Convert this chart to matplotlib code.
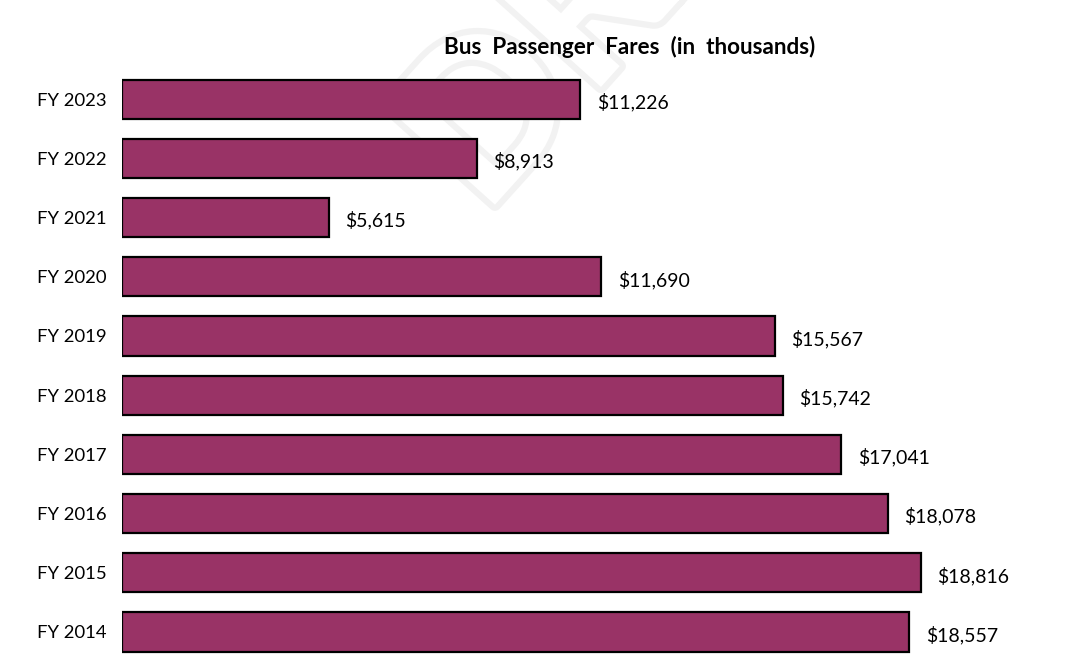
import matplotlib
matplotlib.use('Agg')
import matplotlib.pyplot as plt
import matplotlib.patheffects as pe

# fiscal years, bottom to top
years = ['FY 2014', 'FY 2015', 'FY 2016', 'FY 2017', 'FY 2018',
         'FY 2019', 'FY 2020', 'FY 2021', 'FY 2022', 'FY 2023']
fares = [18557, 18816, 18078, 17041, 15742, 15567, 11690, 5615, 8913, 11226]
base = 1000  # axis starts a little above zero in the original

plt.rcParams['font.family'] = ['Lato', 'DejaVu Sans']

fig = plt.figure(figsize=(10.84, 6.63), dpi=100)

# faint watermark, sits behind the chart
bg = fig.add_axes([0, 0, 1, 1], zorder=-1)
bg.axis('off')
bg.text(0.34, 0.69, 'DRAFT', fontsize=150, rotation=48, color='white',
        fontweight='bold', transform=bg.transAxes, clip_on=True,
        path_effects=[pe.Stroke(linewidth=9, foreground='#f2f2f2'), pe.Normal()])

ax = fig.add_axes([122 / 1084, 1.4 / 663, 962 / 1084, 592 / 663])
ax.set_facecolor('none')

pos = range(len(years))
ax.barh(pos, [v - base for v in fares], left=base, height=0.66,
        color='#993366', edgecolor='black', linewidth=1.6, zorder=2)

for i, v in zip(pos, fares):
    ax.text(v + 370, i - 0.05, f'${v:,}', va='center', ha='left', fontsize=14)

ax.set_xlim(base, 22460)
ax.set_ylim(-0.5, len(years) - 0.5)
ax.set_yticks(list(pos))
ax.set_yticklabels(years, fontsize=13.3)
ax.tick_params(axis='y', length=0, pad=11)
ax.set_xticks([])
for s in ax.spines.values():
    s.set_visible(False)

fig.text(630 / 1084, 1 - 47 / 663, 'Bus  Passenger  Fares  (in  thousands)',
         ha='center', va='center', fontsize=16.2, fontweight='bold')

fig.savefig('out.png', dpi=100)
